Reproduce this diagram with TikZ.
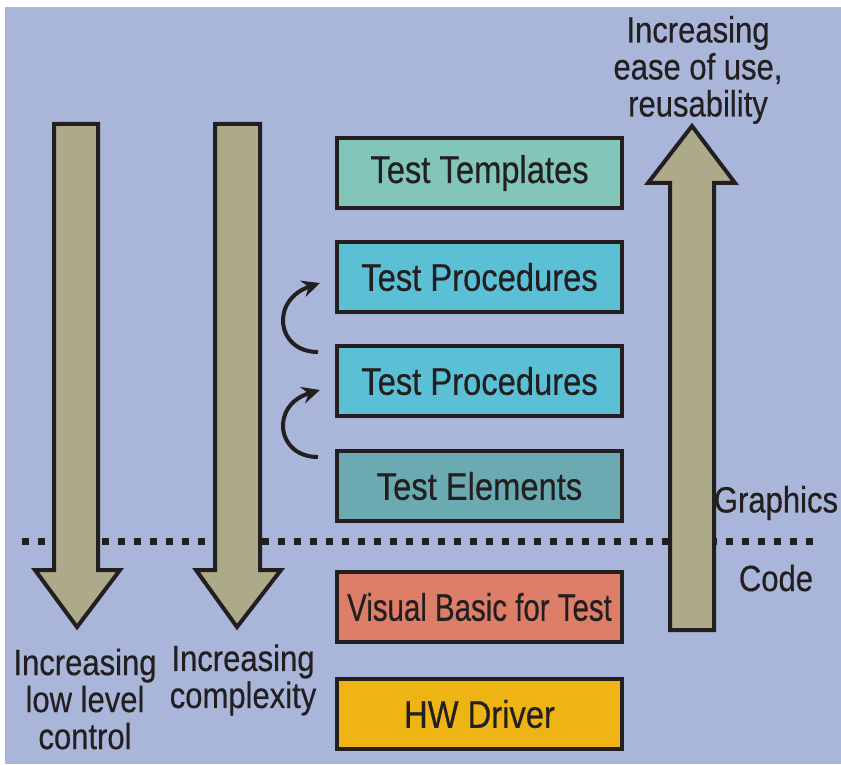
\documentclass[tikz,border=0pt]{standalone}
\usepackage{fontspec}
\usepackage{graphicx}
\setmainfont{Liberation Sans}[FakeStretch=0.85,FakeBold=0.4]
\usetikzlibrary{arrows.meta}
\definecolor{bgblue}{HTML}{A9B5D9}
\definecolor{shaft}{HTML}{ACAA88}
\definecolor{ink}{HTML}{231F20}
\definecolor{tmpl}{HTML}{82C6BA}
\definecolor{proc}{HTML}{5BC0D6}
\definecolor{elem}{HTML}{6BAAB0}
\definecolor{vbt}{HTML}{DD7E68}
\definecolor{hwd}{HTML}{EDB414}
\tikzset{
  layer/.style={draw=ink, line width=4pt, minimum width=285pt, minimum height=70pt,
    inner sep=0pt, font=\fontsize{38.5}{40}\selectfont, text=ink, anchor=north west},
  bigarrow/.style={draw=ink, fill=shaft, line width=4pt, miter limit=10},
  caption/.style={font=\fontsize{36.5}{37}\selectfont, text=ink, align=center, inner sep=0pt},
  turn/.style={draw=ink, line width=4pt, -{Stealth[length=18pt,width=17pt,inset=6pt]}}
}
\begin{document}
\begin{tikzpicture}[x=1pt,y=-1pt]
\useasboundingbox (0,0) rectangle (841,765);
\fill[white] (0,0) rectangle (841,765);
\fill[bgblue] (5,7) rectangle (841,764);

% boundary between graphical and coded layers
\draw[ink, line width=7pt, dash pattern=on 7pt off 9pt] (22,541) -- (822,541);

% downward arrows
\draw[bigarrow] (54,124) -- (98,124) -- (98,570) -- (120,570) -- (77,627)
  -- (35,570) -- (54,570) -- cycle;
\draw[bigarrow] (215,124) -- (260,124) -- (260,570) -- (281,570) -- (237,627)
  -- (196,570) -- (215,570) -- cycle;
% upward arrow
\draw[bigarrow] (670,630) -- (670,183) -- (648,183) -- (692,126) -- (735,183)
  -- (714,183) -- (714,630) -- cycle;

% layer boxes
\node[layer, fill=tmpl] (templates) at (335,136) {Test Templates};
\node[layer, fill=proc] (procB) at (335,240) {Test Procedures};
\node[layer, fill=proc] (procA) at (335,344) {Test Procedures};
\node[layer, fill=elem] (elements) at (335,449) {Test Elements};
\node[layer, fill=vbt] (vbtest) at (335,570) {\scalebox{0.9}[1]{Visual Basic for Test}};
\node[layer, fill=hwd] (hwdriver) at (335,677) {HW Driver};

% reuse arrows
\coordinate (r1s) at (318,352);
\coordinate (r1e) at (320,283);
\coordinate (r2s) at (318,457);
\coordinate (r2e) at (320,390);
\draw[turn] (r1s) .. controls (276,352) and (270,300) .. (r1e);
\draw[turn] (r2s) .. controls (276,457) and (270,405) .. (r2e);

% captions
\node[caption] (ease) at (698,70) {Increasing\\ease of use,\\reusability};
\node[caption] (lowlvl) at (85,699) {Increasing\\low level\\control};
\node[caption] (cplx) at (243,680) {Increasing\\complexity};
\node[caption] (gfx) at (776,503) {Graphics};
\node[caption] (code) at (776,578) {Code};
\end{tikzpicture}
\end{document}
